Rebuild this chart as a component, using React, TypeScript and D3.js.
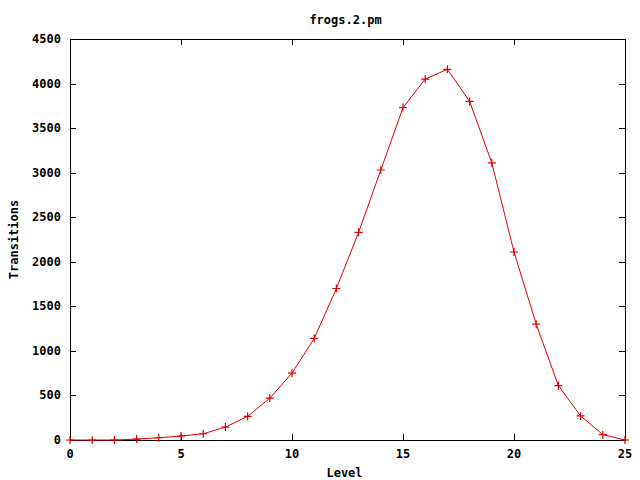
import React, { useEffect, useRef } from "react";
import * as d3 from "d3";

const levels = [0, 1, 2, 3, 4, 5, 6, 7, 8, 9, 10, 11, 12, 13, 14, 15, 16, 17, 18, 19, 20, 21, 22, 23, 24, 25];
const transitions = [
  0, 0, 0, 10, 25, 45, 70, 145, 265, 470, 750, 1140, 1700, 2330, 3030, 3730, 4050, 4160,
  3800, 3110, 2110, 1300, 610, 270, 60, 0,
];
const xTicks = [0, 5, 10, 15, 20, 25];
const yTicks = [0, 500, 1000, 1500, 2000, 2500, 3000, 3500, 4000, 4500];

const FONT = "'DejaVu Sans Mono', monospace";

const App = () => {
  const svgRef = useRef<SVGSVGElement>(null);

  useEffect(() => {
    const margin = { top: 39, right: 15, bottom: 40, left: 70 };
    const W = 640;
    const H = 480;
    const width = W - margin.left - margin.right;
    const height = H - margin.top - margin.bottom;

    const root = d3.select(svgRef.current);
    root.selectAll("*").remove();
    root.attr("width", W).attr("height", H);

    const svg = root.append("g").attr("transform", `translate(${margin.left},${margin.top})`);

    const x = d3.scaleLinear().domain([0, 25]).range([0, width]);
    const y = d3.scaleLinear().domain([0, 4500]).range([height, 0]);

    const tick = 6;

    // border
    svg
      .append("rect")
      .attr("x", 0)
      .attr("y", 0)
      .attr("width", width)
      .attr("height", height)
      .attr("fill", "none")
      .attr("stroke", "#000")
      .attr("stroke-width", 1)
      .attr("shape-rendering", "crispEdges");

    // x ticks (bottom + mirrored top)
    xTicks.forEach((t) => {
      const px = Math.round(x(t)) + 0.5;
      svg.append("line").attr("x1", px).attr("x2", px).attr("y1", height).attr("y2", height - tick).attr("stroke", "#000");
      svg.append("line").attr("x1", px).attr("x2", px).attr("y1", 0).attr("y2", tick).attr("stroke", "#000");
      svg
        .append("text")
        .attr("x", x(t))
        .attr("y", height + 18)
        .attr("text-anchor", "middle")
        .style("font-family", FONT)
        .style("font-weight", "bold")
        .style("font-size", "12px")
        .text(t);
    });

    // y ticks (left + mirrored right)
    yTicks.forEach((t) => {
      const py = Math.round(y(t)) + 0.5;
      svg.append("line").attr("x1", 0).attr("x2", tick).attr("y1", py).attr("y2", py).attr("stroke", "#000");
      svg.append("line").attr("x1", width).attr("x2", width - tick).attr("y1", py).attr("y2", py).attr("stroke", "#000");
      svg
        .append("text")
        .attr("x", -9)
        .attr("y", y(t) + 4)
        .attr("text-anchor", "end")
        .style("font-family", FONT)
        .style("font-weight", "bold")
        .style("font-size", "12px")
        .text(t);
    });

    const pts = levels.map((l, i) => [l, transitions[i]] as [number, number]);

    const line = d3
      .line<[number, number]>()
      .x((d) => x(d[0]))
      .y((d) => y(d[1]));

    svg
      .append("path")
      .datum(pts)
      .attr("d", line)
      .attr("fill", "none")
      .attr("stroke", "#e00000")
      .attr("stroke-width", 1);

    const m = 4;
    svg
      .selectAll(".pt")
      .data(pts)
      .enter()
      .append("path")
      .attr("class", "pt")
      .attr("d", (d) => {
        const px = x(d[0]);
        const py = y(d[1]);
        return `M${px - m},${py}H${px + m}M${px},${py - m}V${py + m}`;
      })
      .attr("stroke", "#e00000")
      .attr("stroke-width", 1.2)
      .attr("fill", "none");

    // title and axis labels
    root
      .append("text")
      .attr("x", margin.left + width / 2 - 2)
      .attr("y", 24)
      .attr("text-anchor", "middle")
      .style("font-family", FONT)
      .style("font-weight", "bold")
      .style("font-size", "12px")
      .text("frogs.2.pm");

    root
      .append("text")
      .attr("x", margin.left + width / 2 - 3)
      .attr("y", 477)
      .attr("text-anchor", "middle")
      .style("font-family", FONT)
      .style("font-weight", "bold")
      .style("font-size", "12px")
      .text("Level");

    root
      .append("text")
      .attr("transform", `translate(18,${margin.top + height / 2}) rotate(-90)`)
      .attr("text-anchor", "middle")
      .style("font-family", FONT)
      .style("font-weight", "bold")
      .style("font-size", "12px")
      .text("Transitions");
  }, []);

  return <svg ref={svgRef} style={{ position: "absolute", left: 0, top: 0, background: "#fff" }}></svg>;
};

export default App;
